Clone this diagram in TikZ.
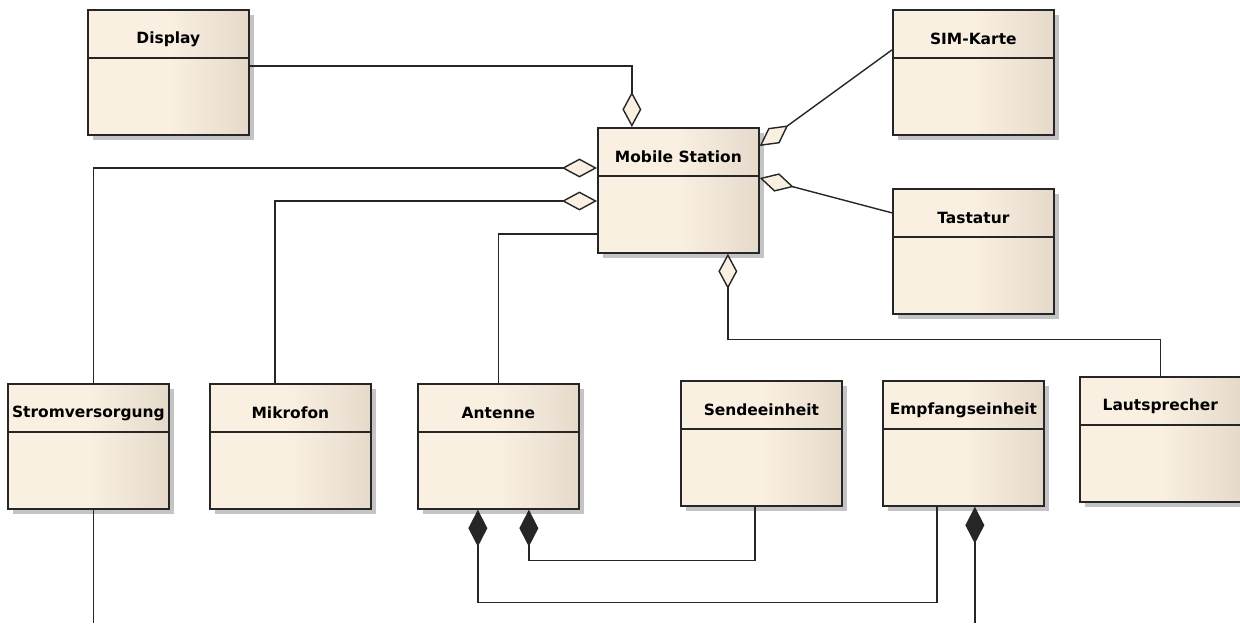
\documentclass[tikz,border=0pt]{standalone}
\usepackage{fontspec}
\setmainfont{DejaVu Sans}
\usetikzlibrary{arrows.meta}
\usetikzlibrary{shadows}
\usetikzlibrary{positioning}
\definecolor{classleft}{HTML}{FAF0E2}
\definecolor{classright}{HTML}{E5DACA}
\definecolor{shadowgray}{HTML}{C4C4C4}

\begin{document}
\begin{tikzpicture}
  [x=0.02cm, y=-0.02cm,
  klasse/.style={shape=rectangle, draw=black!85, line width=1pt, anchor=north west,
         minimum width=3.22cm, minimum height=2.5cm, inner sep=0pt,
         left color=classleft, right color=classright, middle color=classleft,
         drop shadow={shadow xshift=0.1cm, shadow yshift=-0.1cm, fill=shadowgray, opacity=1},
         label={[anchor=center, yshift=-0.6cm, font=\bfseries\fontsize{8.8}{10}\selectfont]north:#1}},
  aggr/.style={{Diamond[fill=classleft, length=20pt, width=10.8pt]}-},
  komp/.style={{Diamond[length=21pt, width=10.8pt]}-},
  ]
  \useasboundingbox (0,0) rectangle (1240,623);
  \coordinate (unten) at (0,623);
 \path
   (87,9)     node (disp)   [klasse=Display] {}
   (892,9)    node (sim)    [klasse=SIM-Karte] {}
   (597,127)  node (ms)     [klasse={Mobile Station}] {}
   (892,188)  node (tast)   [klasse=Tastatur] {}
   (7,383)    node (strom)  [klasse=Stromversorgung] {}
   (209,383)  node (mikro)  [klasse=Mikrofon] {}
   (417,383)  node (ant)    [klasse=Antenne] {}
   (680,380)  node (sende)  [klasse=Sendeeinheit] {}
   (882,380)  node (empf)   [klasse=Empfangseinheit] {}
   (1079,376) node (laut)   [klasse=Lautsprecher] {}
   ;
  \foreach \n in {disp,sim,ms,tast,strom,mikro,ant,sende,empf,laut}
    \draw [line width=1pt, black!85] ([yshift=-0.98cm]\n.north west) -- ([yshift=-0.98cm]\n.north east);

   \begin{scope}[line width=0.8pt, black!85]
   \draw [aggr] ([xshift=-0.93cm]ms.north) |- ([yshift=0.13cm]disp.east);
   \draw [aggr] ([yshift=-0.38cm]ms.north east) -- ([yshift=0.45cm]sim.west);
   \draw [aggr] ([yshift=-1.02cm]ms.north east) -- ([yshift=0.77cm]tast.west);
   \draw [aggr] ([yshift=-0.82cm]ms.north west) -| ([xshift=0.1cm]strom.north);
   \draw [aggr] ([yshift=-1.48cm]ms.north west) -| ([xshift=-0.31cm]mikro.north);
   \draw ([yshift=-2.14cm]ms.north west) -| (ant.north);
   \draw [aggr] ([xshift=0.99cm]ms.south) -- ++(0,86) -| (laut.north);
   \draw ([xshift=0.1cm]strom.south) -- ([xshift=0.1cm]strom.south |- unten);
   \draw [komp] ([xshift=0.61cm]ant.south) -- ++(0,51) -| ([xshift=-0.13cm]sende.south);
   \draw [komp] ([xshift=-0.41cm]ant.south) -- ++(0,93) -| ([xshift=-0.53cm]empf.south);
   \draw [komp] ([xshift=0.23cm]empf.south) -- ([xshift=0.23cm]empf.south |- unten);
   \end{scope}

\end{tikzpicture}
\end{document}
